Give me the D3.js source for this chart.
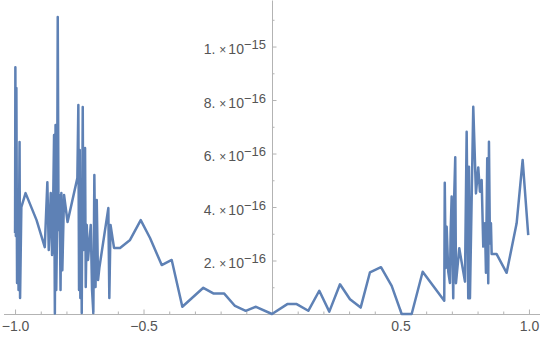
<!DOCTYPE html>
<html>
<head>
<meta charset="utf-8">
<script src="https://cdn.jsdelivr.net/npm/d3@7"></script>
<style>
  html, body { margin: 0; padding: 0; background: #fff; }
  #chart { width: 540px; height: 337px; }
  .axis text { font-family: 'Liberation Sans', Arial, sans-serif; font-size: 14px; fill: #555; }
  .axis path, .axis line { stroke: #b3b3b3; }
</style>
</head>
<body>
<div id="chart"></div>
<script>
// sample points of the curve, y in units of 1e-16
const sampleX = [
  -1.0000, -0.9988, -0.9969, -0.9949, -0.9922, -0.9891, -0.9864, -0.9825, -0.9805, -0.9755,
  -0.9591, -0.9163, -0.8844, -0.8743, -0.8689, -0.8611, -0.8560, -0.8521, -0.8482, -0.8451,
  -0.8424, -0.8397, -0.8366, -0.8339, -0.8307, -0.8268, -0.8230, -0.8198, -0.8160, -0.8093,
  -0.7957, -0.7576, -0.7537, -0.7510, -0.7482, -0.7459, -0.7424, -0.7405, -0.7366, -0.7342,
  -0.7315, -0.7276, -0.7249, -0.7210, -0.7160, -0.7054, -0.7004, -0.6953, -0.6914, -0.6868,
  -0.6821, -0.6770, -0.6720, -0.6370, -0.6331, -0.6284, -0.6148, -0.5914, -0.5525, -0.5109,
  -0.4747, -0.4292, -0.3903, -0.3490, -0.2673, -0.2284, -0.1868, -0.1440, -0.1023, -0.0623,
  0.0000, 0.0595, 0.0961, 0.1412, 0.1840, 0.2230, 0.2646, 0.3035, 0.3451, 0.3813,
  0.4241, 0.4658, 0.5047, 0.5436, 0.5864, 0.6704, 0.6724, 0.6759, 0.6798, 0.6860,
  0.6926, 0.6953, 0.6992, 0.7054, 0.7093, 0.7132, 0.7160, 0.7288, 0.7510, 0.7576,
  0.7638, 0.7665, 0.7704, 0.7833, 0.7938, 0.8027, 0.8093, 0.8160, 0.8222, 0.8288,
  0.8327, 0.8377, 0.8416, 0.8444, 0.8482, 0.8521, 0.8549, 0.8743, 0.9132, 0.9521,
  0.9755, 0.9973,
];
const errorY = [
  3.03, 9.23, 2.92, 8.45, 1.16, 4.26, 0.90, 6.43, 0.60, 4.00,
  4.52, 3.51, 2.50, 4.93, 2.39, 4.52, 2.21, 3.89, 6.69, 0.02,
  7.07, 0.90, 3.14, 11.10, 3.14, 4.45, 0.90, 4.52, 1.64, 4.45,
  3.44, 5.08, 7.81, 0.90, 6.13, 0.60, 3.33, 0.04, 7.74, 2.39,
  5.38, 6.21, 1.01, 3.33, 2.02, 3.33, 0.90, 0.04, 5.20, 1.01,
  4.26, 1.27, 1.72, 3.96, 0.60, 3.33, 2.47, 2.47, 2.77, 3.51,
  2.84, 1.83, 2.02, 0.27, 0.98, 0.77, 0.77, 0.30, 0.12, 0.27,
  0.00, 0.37, 0.37, 0.12, 0.87, 0.09, 1.11, 0.55, 0.24, 1.56,
  1.75, 1.05, 0.00, 0.00, 1.58, 0.50, 4.91, 1.72, 3.26, 1.58,
  1.16, 3.08, 4.39, 0.59, 4.45, 5.86, 1.15, 2.46, 1.21, 6.81,
  0.59, 5.51, 0.59, 7.75, 4.51, 5.48, 4.57, 5.01, 2.52, 3.39,
  1.54, 5.82, 1.15, 6.44, 2.64, 3.39, 2.24, 2.24, 1.54, 3.39,
  5.76, 2.95,
];

const xMajorTicks = [-1, -0.5, 0.5, 1];
const xMinorTicks = [-0.9, -0.8, -0.7, -0.6, -0.4, -0.3, -0.2, -0.1, 0.1, 0.2, 0.3, 0.4, 0.6, 0.7, 0.8, 0.9];
const yMajorTicks = [2, 4, 6, 8, 10];
const yMinorTicks = [1, 3, 5, 7, 9, 11];
const yTickMantissa = ['2.', '4.', '6.', '8.', '1.'];
const yTickExponent = ['\u221216', '\u221216', '\u221216', '\u221216', '\u221215'];

const width = 540;
const height = 337;

const points = sampleX.map((x, i) => ({ x, y: errorY[i] }));

const xScale = d3.scaleLinear()
  .domain([-1.045, 1.045])
  .range([3.5, 540.5]);

const yScale = d3.scaleLinear()
  .domain([0, 11.74])
  .range([314, 0]);

const svg = d3.select('#chart').append('svg')
  .attr('width', width)
  .attr('height', height);

// x axis: minor ticks first, then labelled majors
svg.append('g')
  .attr('class', 'x axis minor')
  .attr('transform', `translate(0,${yScale(0)})`)
  .call(d3.axisBottom(xScale).tickValues(xMinorTicks).tickSize(-2.5).tickSizeOuter(0).tickFormat(''));

svg.append('g')
  .attr('class', 'x axis')
  .attr('transform', `translate(0,${yScale(0)})`)
  .call(d3.axisBottom(xScale)
    .tickValues(xMajorTicks)
    .tickSize(-4.5)
    .tickSizeOuter(0)
    .tickPadding(7.5)
    .tickFormat(d3.format('.1f')));

svg.selectAll('.x.axis.minor path').remove();

// y axis sits at x = 0
svg.append('g')
  .attr('class', 'y axis minor')
  .attr('transform', `translate(${xScale(0)},0)`)
  .call(d3.axisLeft(yScale).tickValues(yMinorTicks).tickSize(-2.5).tickSizeOuter(0).tickFormat(''));

const yAxisG = svg.append('g')
  .attr('class', 'y axis')
  .attr('transform', `translate(${xScale(0)},0)`)
  .call(d3.axisLeft(yScale)
    .tickValues(yMajorTicks)
    .tickSize(-4.5)
    .tickSizeOuter(0)
    .tickPadding(6));

svg.selectAll('.y.axis.minor path').remove();

yAxisG.selectAll('.tick text')
  .text(null)
  .attr('dy', 7)
  .each(function (d, i) {
    const t = d3.select(this);
    t.append('tspan').text(yTickMantissa[i]);
    t.append('tspan').attr('font-size', 12).attr('dx', 4).text('\u00d7');
    t.append('tspan').attr('dx', 2).text('10');
    t.append('tspan').attr('font-size', 13).attr('dy', -5).text(yTickExponent[i]);
  });

const plotLine = d3.line()
  .x(d => xScale(d.x))
  .y(d => yScale(d.y));

svg.append('path')
  .datum(points)
  .attr('d', plotLine)
  .style('fill', 'none')
  .style('stroke', '#5e81b5')
  .style('stroke-width', '2.5px')
  .style('stroke-linejoin', 'round');
</script>
</body>
</html>
